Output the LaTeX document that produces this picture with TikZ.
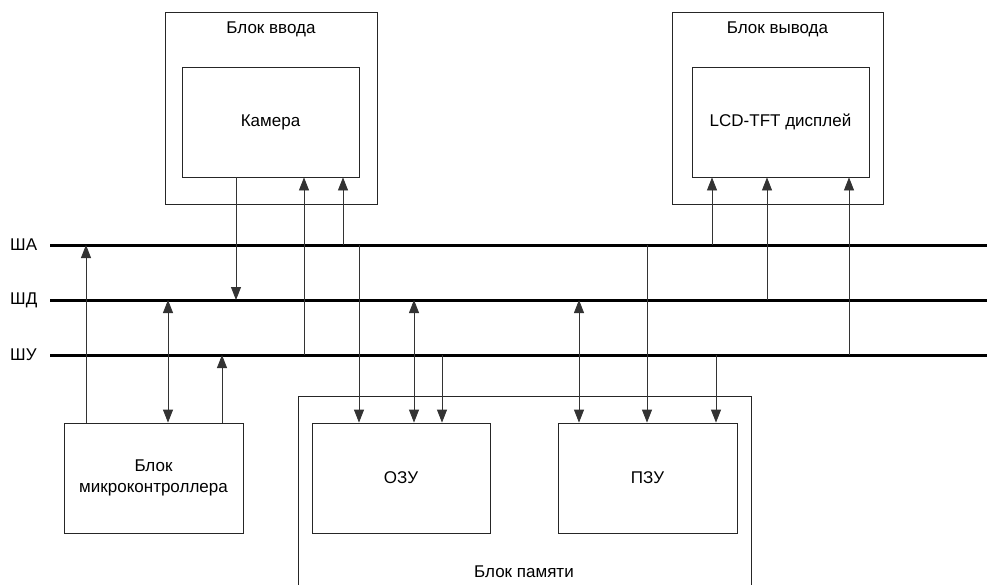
\documentclass[tikz,border=0pt]{standalone}
\usepackage{fontspec}
\setmainfont{Liberation Sans}
\usetikzlibrary{arrows.meta}
\begin{document}
\begin{tikzpicture}[x=1pt,y=-1pt,
  font=\fontsize{17}{21}\selectfont,
  box/.style={draw=black!85,line width=0.8pt,minimum width=#1,inner sep=0pt},
  lbl/.style={inner sep=0pt,align=center},
  bus/.style={line width=3pt,black},
  conn/.style={draw=black!80,line width=0.8pt},
  arr/.style={conn,-{Triangle[length=13pt,width=10pt]}},
  darr/.style={conn,{Triangle[length=13pt,width=10pt]}-{Triangle[length=13pt,width=10pt]}}
]
\useasboundingbox (0,0) rectangle (987,584);
\clip (0,0) rectangle (987,584);
% outer blocks
\node[box=212pt,minimum height=192pt] (inblk) at (271,108) {};
\node[lbl] (inlbl) at (271,29) {Блок ввода};
\node[box=177pt,minimum height=110pt] (cam) at (270.5,122) {Камера};
\node[box=211pt,minimum height=192pt] (outblk) at (777.5,108) {};
\node[lbl] (outlbl) at (777.5,29) {Блок вывода};
\node[box=177pt,minimum height=110pt] (lcd) at (780.5,122) {LCD-TFT дисплей};
\node[box=179pt,minimum height=110pt,align=center] (mc) at (153.5,478) {Блок\\микроконтроллера};
\node[box=453pt,minimum height=210pt] (mem) at (524.5,501) {};
\node[lbl] (memlbl) at (524,572) {Блок памяти};
\node[box=178pt,minimum height=110pt] (ozu) at (401,478) {ОЗУ};
\node[box=179pt,minimum height=110pt] (pzu) at (647.5,478) {ПЗУ};
% buses
\coordinate (aL) at (50,245); \coordinate (aR) at (990,245);
\coordinate (dL) at (50,300); \coordinate (dR) at (990,300);
\coordinate (uL) at (50,355); \coordinate (uR) at (990,355);
\draw[bus] (aL) -- (aR);
\draw[bus] (dL) -- (dR);
\draw[bus] (uL) -- (uR);
\node[lbl,anchor=west] (la) at (10,245) {ША};
\node[lbl,anchor=west] (ld) at (10,300) {ШД};
\node[lbl,anchor=west] (lu) at (10,355) {ШУ};
% camera
\draw[arr] (236,0 |- cam.south) -- (236,0 |- dL);
\draw[arr] (304,0 |- uL) -- (304,0 |- cam.south);
\draw[arr] (343,0 |- aL) -- (343,0 |- cam.south);
% lcd
\draw[arr] (712,0 |- aL) -- (712,0 |- lcd.south);
\draw[arr] (767,0 |- dL) -- (767,0 |- lcd.south);
\draw[arr] (849,0 |- uL) -- (849,0 |- lcd.south);
% microcontroller
\draw[arr] (86,0 |- mc.north) -- (86,0 |- aL);
\draw[darr] (168,0 |- mc.north) -- (168,0 |- dL);
\draw[arr] (222,0 |- mc.north) -- (222,0 |- uL);
% OZU
\draw[arr] (359,0 |- aL) -- (359,0 |- ozu.north);
\draw[darr] (414,0 |- dL) -- (414,0 |- ozu.north);
\draw[arr] (442,0 |- uL) -- (442,0 |- ozu.north);
% PZU
\draw[darr] (579,0 |- dL) -- (579,0 |- pzu.north);
\draw[arr] (647,0 |- aL) -- (647,0 |- pzu.north);
\draw[arr] (716,0 |- uL) -- (716,0 |- pzu.north);
\end{tikzpicture}
\end{document}
